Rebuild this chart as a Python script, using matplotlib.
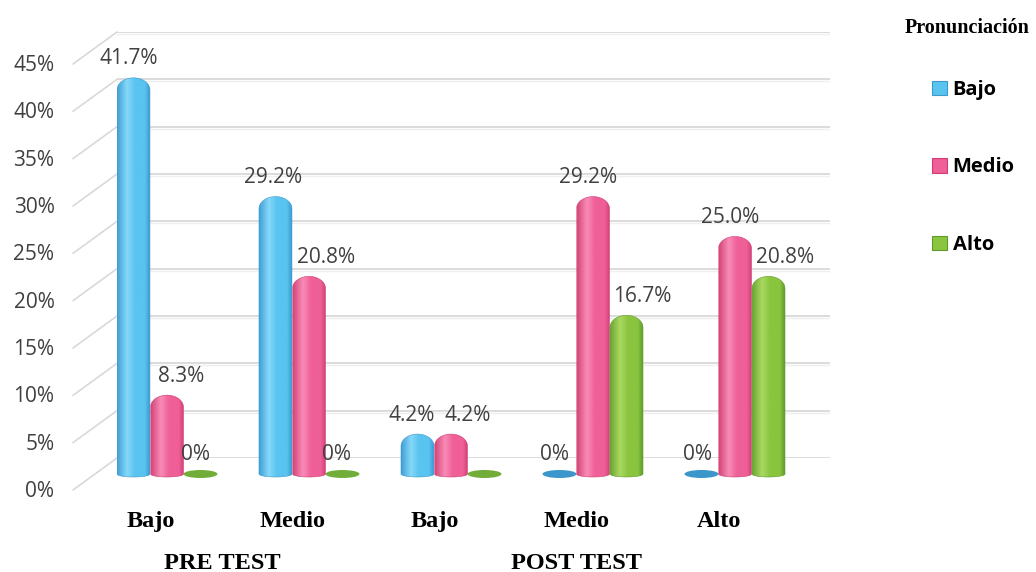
import numpy as np
import matplotlib
matplotlib.use("Agg")
import matplotlib.pyplot as plt
from matplotlib.colors import LinearSegmentedColormap
from matplotlib.patches import PathPatch, Ellipse, Patch
from matplotlib.path import Path
from matplotlib.transforms import ScaledTranslation

# ---------------- data ----------------
categories = ["Bajo", "Medio", "Bajo", "Medio", "Alto"]
phases = ["PRE TEST", "POST TEST"]
phase_members = [[0, 1], [2, 3, 4]]
series = ["Bajo", "Medio", "Alto"]
bajo = [41.7, 29.2, 4.2, 0.0, 0.0]
medio = [8.3, 20.8, 4.2, 29.2, 25.0]
alto = [0.0, 0.0, 0.0, 16.7, 20.8]
labels_bajo = ["41.7%", "29.2%", "4.2%", "0%", "0%"]
labels_medio = ["8.3%", "20.8%", "4.2%", "29.2%", "25.0%"]
labels_alto = ["0%", "0%", None, "16.7%", "20.8%"]
yticks = [0, 5, 10, 15, 20, 25, 30, 35, 40, 45]
ytick_labels = ["0%", "5%", "10%", "15%", "20%", "25%", "30%", "35%", "40%", "45%"]
legend_title = "Pronunciación"

# ---------------- style ----------------
values = [bajo, medio, alto]
value_labels = [labels_bajo, labels_medio, labels_alto]
label_shift_px = [[-5, -2, -6, -5, -4], [14, 17, 17, -5, -5], [-5, -6, 0, 16, 17]]
pal = {
    0: dict(edge="#3f9fd6", main="#59c4ef", hi="#86d8f8", dark="#3c98cf", flat="#3a96cb"),
    1: dict(edge="#d6467a", main="#ef5f98", hi="#f88cb6", dark="#cf3d72", flat="#d94a7e"),
    2: dict(edge="#68a532", main="#8ac53f", hi="#a9d962", dark="#5f9b2b", flat="#72ad3a"),
}
W, H, DPI = 1036, 572, 100
sans = "Open Sans"
serif = "Liberation Serif"
txt_col = "#404040"

fig = plt.figure(figsize=(W / DPI, H / DPI), dpi=DPI)
fig.patch.set_facecolor("white")

# back wall (gridlines + tick labels)
wall = fig.add_axes([117 / W, 114 / H, 713 / W, 426 / H])
wall.set_ylim(0, 45)
wall.set_xlim(0, 1)
for s in wall.spines.values():
    s.set_visible(False)
wall.set_xticks([])
wall.set_yticks(yticks)
wall.set_yticklabels(ytick_labels, fontsize=15, family=sans, color=txt_col)
wall.tick_params(axis="y", length=0, pad=45)
for lab in wall.get_yticklabels():
    lab.set_transform(lab.get_transform() + ScaledTranslation(0, -31 / DPI, fig.dpi_scale_trans))
for v in yticks:
    wall.axhline(v, color="#d9d9d9", lw=1.3, zorder=1)
    sh = wall.axhline(v, color="#efefef", lw=1.0, zorder=0.9)
    sh.set_transform(wall.get_yaxis_transform() + ScaledTranslation(0, -2 / DPI, fig.dpi_scale_trans))
    wall.annotate("", xy=(0, v), xycoords=("axes fraction", "data"),
                  xytext=(-44, -32), textcoords="offset pixels",
                  arrowprops=dict(arrowstyle="-", color="#d9d9d9", lw=1.2, shrinkA=0, shrinkB=0))

# bars
px_y = 9.5  # pixels per y unit
ylim = (-1.5, 45)
ax = fig.add_axes([117 / W, (98 - 1.5 * px_y) / H, 713 / W, (ylim[1] - ylim[0]) * px_y / H])
ax.patch.set_alpha(0)
for s in ax.spines.values():
    s.set_visible(False)
ax.set_xticks([])
ax.set_yticks([])
xlim = (-0.352, 4.669)
ax.set_xlim(*xlim)
ax.set_ylim(*ylim)

bw = 0.232
offs = [-0.236, 0.0, 0.236]
x = np.arange(len(categories))

for si, vals in enumerate(values):
    c = pal[si]
    cmap = LinearSegmentedColormap.from_list(
        "g%d" % si, [(0, c["edge"]), (0.3, c["hi"]), (0.55, c["main"]), (0.85, c["main"]), (1, c["dark"])])
    bars = ax.bar(x + offs[si], vals, width=bw, color="none", edgecolor="none", zorder=2)
    for bi, rect in enumerate(bars):
        x0 = rect.get_x()
        w = rect.get_width()
        h = rect.get_height()
        xc = x0 + w / 2
        rx = w / 2
        if h <= 0:
            ell = Ellipse((xc, 0), w * 1.03, 8 / px_y, facecolor=c["flat"], edgecolor="none",
                          zorder=2)
            ax.add_patch(ell)
        else:
            ry = min(12 / px_y, h / 2)
            rb = 3 / px_y
            t1 = np.linspace(np.pi, 2 * np.pi, 40)
            t2 = np.linspace(0, np.pi, 60)
            xs = np.concatenate([xc + rx * np.cos(t1), xc + rx * np.cos(t2)])
            ys = np.concatenate([0 + rb * np.sin(t1), (h - ry) + ry * np.sin(t2)])
            verts = np.column_stack([xs, ys])
            verts = np.vstack([verts, verts[:1]])
            codes = [Path.MOVETO] + [Path.LINETO] * (len(verts) - 2) + [Path.CLOSEPOLY]
            path = Path(verts, codes)
            pp = PathPatch(path, facecolor="none", edgecolor=c["dark"], lw=0.4, zorder=3)
            ax.add_patch(pp)
            im = ax.imshow(np.linspace(0, 1, 128)[None, :], cmap=cmap, aspect="auto",
                           extent=(x0, x0 + w, -rb, h), zorder=2.5, interpolation="bicubic")
            im.set_clip_path(pp)
        lab = value_labels[si][bi]
        if lab is not None:
            ax.annotate(lab, xy=(xc, h), xytext=(label_shift_px[si][bi], 13.5),
                        textcoords="offset pixels", ha="center", va="baseline",
                        fontsize=15, family=sans, color=txt_col, zorder=5)

ax.set_xlim(*xlim)
ax.set_ylim(*ylim)

# category labels
tr = ax.transData
for i, cat in enumerate(categories):
    ax.text(x[i], 0, cat, transform=tr + ScaledTranslation(-16 / DPI, -53 / DPI, fig.dpi_scale_trans),
            ha="center", va="baseline", fontsize=17.5, family=serif, fontweight="bold", color="black")
for ph, mem in zip(phases, phase_members):
    ax.text(np.mean(x[mem]), 0, ph, transform=tr + ScaledTranslation(-16 / DPI, -95 / DPI, fig.dpi_scale_trans),
            ha="center", va="baseline", fontsize=17.5, family=serif, fontweight="bold", color="black")

# legend
fig.text(967 / W, 1 - 33 / H, legend_title, ha="center", va="baseline",
         fontsize=14.5, family=serif, fontweight="bold", color="black")
handles = [Patch(facecolor=pal[i]["main"], edgecolor=pal[i]["dark"], lw=0.8) for i in range(3)]
leg = fig.legend(handles, series, loc="upper left", bbox_to_anchor=(932 / W, 1 - 80 / H),
                 bbox_transform=fig.transFigure, frameon=False, borderpad=0, borderaxespad=0,
                 handlelength=0.72, handleheight=0.72, handletextpad=0.3, labelspacing=2.85,
                 prop=dict(family=sans, weight="bold", size=14.5))

fig.savefig("out.png", dpi=DPI, facecolor="white")
